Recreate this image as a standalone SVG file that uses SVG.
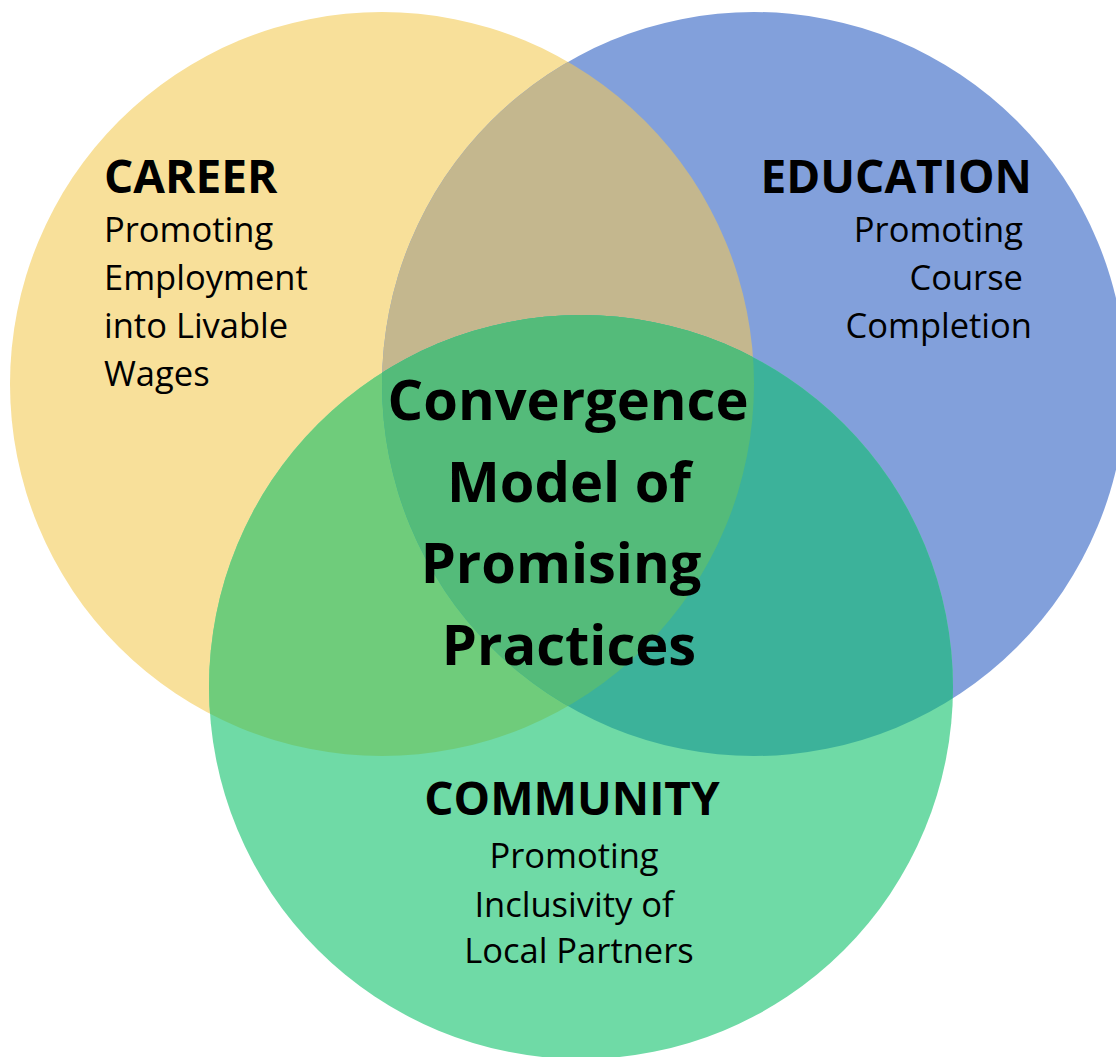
<svg xmlns="http://www.w3.org/2000/svg" width="1116" height="1057" viewBox="0 0 1116 1057">
<style>
.h{font-family:"Open Sans","Noto Sans","DejaVu Sans",sans-serif;font-weight:bold;fill:#000}
.b{font-family:"Open Sans","Noto Sans","DejaVu Sans",sans-serif;fill:#000;font-size:34.5px}
</style>
<defs>
<clipPath id="cY"><circle cx="382" cy="384" r="372"/></clipPath>
<clipPath id="cB"><circle cx="754" cy="384" r="372"/></clipPath>
<clipPath id="cG"><circle cx="581" cy="687" r="372"/></clipPath>
</defs>
<rect width="1116" height="1057" fill="#fff"/>
<g id="career">
<circle cx="382" cy="384" r="372" fill="#F8E09A"/>
</g>
<g id="education">
<circle cx="754" cy="384" r="372" fill="#82A0DB"/>
<circle cx="382" cy="384" r="372" fill="#C4B78E" clip-path="url(#cB)"/>
</g>
<g id="community">
<circle cx="581" cy="687" r="372" fill="#6FDAA6"/>
<circle cx="581" cy="687" r="372" fill="#6FCC7B" clip-path="url(#cY)"/>
<circle cx="581" cy="687" r="372" fill="#3CB29A" clip-path="url(#cB)"/>
<g clip-path="url(#cB)"><circle cx="581" cy="687" r="372" fill="#54BB7A" clip-path="url(#cY)"/></g>
</g>
<g id="career-label">
<text class="h" x="104" y="193" font-size="46">CAREER</text>
<text class="b" x="104" y="242">Promoting</text>
<text class="b" x="104" y="290">Employment</text>
<text class="b" x="104" y="338">into Livable</text>
<text class="b" x="104" y="386">Wages</text>
</g>
<g id="education-label">
<text class="h" x="1032" y="193" font-size="46" text-anchor="end">EDUCATION</text>
<text class="b" x="1023" y="242" text-anchor="end">Promoting</text>
<text class="b" x="1023" y="290" text-anchor="end">Course</text>
<text class="b" x="1032" y="338" text-anchor="end">Completion</text>
</g>
<g id="center-label">
<text class="h" x="568" y="420" font-size="56" text-anchor="middle">Convergence</text>
<text class="h" x="569" y="502" font-size="56" text-anchor="middle">Model of</text>
<text class="h" x="561" y="583" font-size="56" text-anchor="middle">Promising</text>
<text class="h" x="569" y="665" font-size="56" text-anchor="middle">Practices</text>
</g>
<g id="community-label">
<text class="h" x="572" y="815" font-size="46" text-anchor="middle">COMMUNITY</text>
<text class="b" x="574" y="868" text-anchor="middle">Promoting</text>
<text class="b" x="574" y="917" text-anchor="middle">Inclusivity of</text>
<text class="b" x="579" y="963" text-anchor="middle">Local Partners</text>
</g>
<g id="connectors"/>
</svg>
